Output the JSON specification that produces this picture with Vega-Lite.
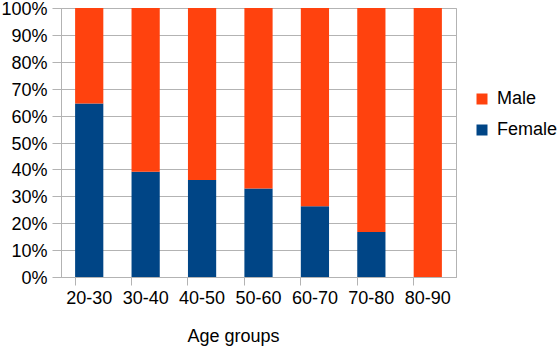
{
  "$schema": "https://vega.github.io/schema/vega-lite/v6.json",
  "width": 395,
  "height": 269,
  "autosize": "none",
  "padding": {"left": 61, "top": 8, "right": 104, "bottom": 69},
  "background": "white",
  "config": {
    "font": "Liberation Sans",
    "view": {"stroke": "#b3b3b3", "strokeWidth": 1}
  },
  "data": {
    "values": [
      {"age": "20-30", "sex": "Female", "value": 64.5},
      {"age": "20-30", "sex": "Male", "value": 35.5},
      {"age": "30-40", "sex": "Female", "value": 39.1},
      {"age": "30-40", "sex": "Male", "value": 60.9},
      {"age": "40-50", "sex": "Female", "value": 36.1},
      {"age": "40-50", "sex": "Male", "value": 63.9},
      {"age": "50-60", "sex": "Female", "value": 32.9},
      {"age": "50-60", "sex": "Male", "value": 67.1},
      {"age": "60-70", "sex": "Female", "value": 26.3},
      {"age": "60-70", "sex": "Male", "value": 73.7},
      {"age": "70-80", "sex": "Female", "value": 16.7},
      {"age": "70-80", "sex": "Male", "value": 83.3},
      {"age": "80-90", "sex": "Female", "value": 0},
      {"age": "80-90", "sex": "Male", "value": 100}
    ]
  },
  "mark": {"type": "bar"},
  "encoding": {
    "x": {
      "field": "age",
      "type": "nominal",
      "scale": {"paddingInner": 0.5, "paddingOuter": 0.25},
      "axis": {
        "title": "Age groups",
        "titleFont": "Liberation Sans",
        "titleFontSize": 18,
        "titleFontWeight": "normal",
        "titleColor": "black",
        "titleX": 172,
        "titleY": 64,
        "titleBaseline": "alphabetic",
        "titleAnchor": "middle",
        "labelAngle": 0,
        "labelFontSize": 18,
        "labelColor": "black",
        "labelPadding": 4,
        "bandPosition": 0,
        "tickSize": 8,
        "tickColor": "#b3b3b3",
        "domainColor": "#b3b3b3",
        "grid": false
      }
    },
    "y": {
      "field": "value",
      "type": "quantitative",
      "stack": "normalize",
      "scale": {"domain": [0, 1]},
      "axis": {
        "title": null,
        "format": ".0%",
        "values": [0, 0.1, 0.2, 0.3, 0.4, 0.5, 0.6, 0.7, 0.8, 0.9, 1],
        "labelFontSize": 18,
        "labelColor": "black",
        "labelPadding": 5,
        "labelOffset": 1.5,
        "tickSize": 9,
        "tickColor": "#b3b3b3",
        "domainColor": "#b3b3b3",
        "gridColor": "#b3b3b3",
        "labelFlush": false
      }
    },
    "color": {
      "field": "sex",
      "type": "nominal",
      "scale": {"domain": ["Male", "Female"], "range": ["#ff420e", "#004586"]},
      "legend": {
        "title": null,
        "orient": "none",
        "legendX": 412,
        "legendY": 82,
        "symbolType": "square",
        "symbolSize": 121,
        "symbolStrokeWidth": 0,
        "labelFontSize": 18,
        "labelColor": "black",
        "labelOffset": 6,
        "rowPadding": 13
      }
    },
    "order": {"field": "sex", "sort": "ascending"}
  }
}
